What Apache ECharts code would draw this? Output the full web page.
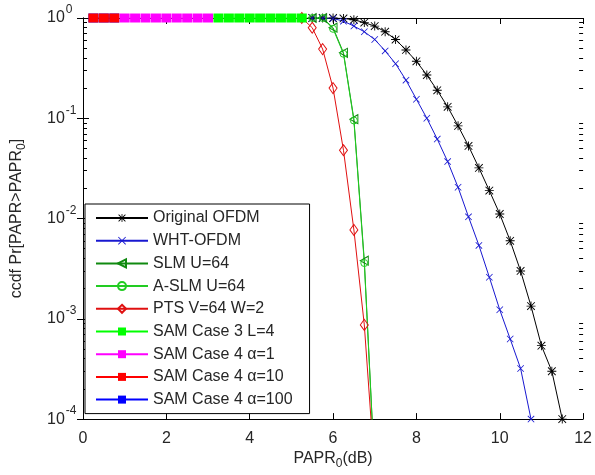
<!DOCTYPE html>
<html>
<head>
<meta charset="utf-8">
<script src="https://cdn.jsdelivr.net/npm/echarts@6/dist/echarts.min.js"></script>
<style>html,body{margin:0;padding:0;background:#fff;}#c{width:595px;height:475px;}</style>
</head>
<body>
<div id="c"></div>
<script>
// ---- data ----
const xOrig = [5.5,5.75,6.0,6.25,6.5,6.75,7.0,7.25,7.5,7.75,8.0,8.25,8.5,8.75,9.0,9.25,9.5,9.75,10.0,10.25,10.5,10.75,11.0,11.25,11.5];
const yOrig = [1,1,1,0.99,0.96,0.90,0.83,0.73,0.61,0.48,0.37,0.27,0.19,0.13,0.084,0.053,0.032,0.019,0.0111,0.0060,0.0030,0.00134,0.00054,0.00030,0.0001];

const xWht = [5.5,5.75,6.0,6.25,6.5,6.75,7.0,7.25,7.5,7.75,8.0,8.25,8.5,8.75,9.0,9.25,9.5,9.75,10.0,10.25,10.5,10.75];
const yWht = [1,1,0.99,0.93,0.83,0.73,0.61,0.47,0.35,0.24,0.155,0.10,0.062,0.037,0.0205,0.0104,0.0054,0.0026,0.00123,0.00063,0.00032,0.0001];

const xSlm = [5.5,5.75,6.0,6.25,6.5,6.75,7.0];
const ySlm = [1,1,0.80,0.45,0.098,0.0038,0.00003];

const xAslm = [5.5,5.75,6.0,6.25,6.5,6.75,7.0];
const yAslm = [1,1,0.78,0.44,0.095,0.0036,0.00003];

const xPts = [5.25,5.5,5.75,6.0,6.25,6.5,6.75,7.0];
const yPts = [1,0.80,0.49,0.20,0.048,0.0077,0.00087,0.00003];

const xSam3 = [3.25,3.5,3.75,4.0,4.25,4.5,4.75,5.0,5.25];
const ySam3 = [1,1,1,1,1,1,1,1,1];

const xSam4a1 = [1.0,1.25,1.5,1.75,2.0,2.25,2.5,2.75,3.0];
const ySam4a1 = [1,1,1,1,1,1,1,1,1];

const xSam4a10 = [0.25,0.5,0.75];
const ySam4a10 = [1,1,1];

const xSam4a100 = [0.25,0.5,0.75];
const ySam4a100 = [1,1,1];

const seriesNames = ['Original OFDM','WHT-OFDM','SLM U=64','A-SLM U=64','PTS V=64 W=2',
  'SAM Case 3 L=4','SAM Case 4 α=1','SAM Case 4 α=10','SAM Case 4 α=100'];

const xTicks = [0,2,4,6,8,10,12];
const yDecades = [0.0001,0.001,0.01,0.1,1];
const minorMantissas = [2,3,4,5,6,7,8,9];

// ---- helpers ----
const zip = (xs, ys) => xs.map((x, i) => [x, ys[i]]);
const FONT = 'Liberation Sans, Arial, sans-serif';
const TXT = '#262626';

const STAR = 'path://M9,0L11,0L11,20L9,20Z M0,9L20,9L20,11L0,11Z M2.2,0.8L19.2,17.8L17.8,19.2L0.8,2.2Z M17.8,0.8L19.2,2.2L2.2,19.2L0.8,17.8Z';
const XMARK = 'path://M1.6,0L20,18.4L18.4,20L0,1.6Z M18.4,0L20,1.6L1.6,20L0,18.4Z';
const LTRI = 'path://M0,10L17,0L17,20Z';

// minor tick values (2..9 times each decade)
const minorTickVals = [];
yDecades.slice(0, -1).forEach(d => minorMantissas.forEach(m => minorTickVals.push(+(d * m).toPrecision(3))));

function lineSeries(name, data, color, symbol, size, opts) {
  const hollow = opts && opts.hollow;
  return Object.assign({
    name: name,
    type: 'line',
    data: data,
    symbol: symbol,
    symbolSize: size,
    showSymbol: true,
    clip: true,
    lineStyle: { color: color, width: 1 },
    itemStyle: hollow
      ? { color: 'rgba(255,255,255,0)', borderColor: color, borderWidth: 1 }
      : { color: color, borderWidth: 0 },
    emphasis: { disabled: true },
    animation: false
  }, (opts && opts.extra) || {});
}

function logAxis(pos, withLabels, tickLen, customTicks) {
  const ax = {
    type: 'log', logBase: 10, min: 0.0001, max: 1, position: pos,
    axisLine: { show: !customTicks, lineStyle: { color: '#000', width: 1 } },
    axisTick: { show: true, inside: true, length: tickLen, lineStyle: { color: '#000', width: 1 } },
    axisLabel: { show: false },
    splitLine: { show: false },
    minorTick: { show: false }
  };
  if (customTicks) ax.axisTick.customValues = customTicks;
  if (withLabels) {
    ax.axisLabel = {
      show: true, align: 'left', margin: 36, color: TXT, fontFamily: FONT,
      formatter: v => '{b|10}{s|' + Math.round(Math.log10(v)) + '}',
      rich: {
        b: { fontSize: 16, fontFamily: FONT, color: TXT },
        s: { fontSize: 12, fontFamily: FONT, color: TXT, padding: [0, 0, 16, 1] }
      }
    };
    ax.name = 'ccdf Pr[PAPR>PAPR{sub|0}]';
    ax.nameLocation = 'middle';
    ax.nameGap = 55;
    ax.nameRotate = 90;
    ax.nameTextStyle = { fontSize: 16, color: TXT, fontFamily: FONT,
      rich: { sub: { fontSize: 12, fontFamily: FONT, color: TXT, padding: [10, 0, 0, 0] } } };
  }
  return ax;
}

const chart = echarts.init(document.getElementById('c'), null, { renderer: 'canvas' });

const option = {
  backgroundColor: '#fff',
  animation: false,
  textStyle: { fontFamily: FONT, color: TXT },
  grid: { left: 83, right: 10, top: 18, bottom: 52, containLabel: false },
  legend: {
    orient: 'vertical',
    left: 85,
    top: 204,
    padding: [6, 17, 6, 10],
    itemGap: 6.7,
    itemWidth: 52,
    itemHeight: 10,
    backgroundColor: '#fff',
    borderColor: '#000',
    borderWidth: 1,
    borderRadius: 0,
    data: seriesNames,
    textStyle: { fontFamily: FONT, fontSize: 16, color: TXT, lineHeight: 16 },
    selectedMode: false
  },
  xAxis: [
    {
      type: 'value', min: 0, max: 12, interval: 2, position: 'bottom',
      axisLine: { show: true, lineStyle: { color: '#000', width: 1 } },
      axisTick: { show: true, inside: true, length: 6, lineStyle: { color: '#000' } },
      axisLabel: { show: true, fontSize: 16, color: TXT, margin: 11, fontFamily: FONT,
        customValues: xTicks },
      splitLine: { show: false },
      name: 'PAPR{sub|0}(dB)',
      nameLocation: 'middle',
      nameGap: 28,
      nameTextStyle: { fontSize: 16, color: TXT, fontFamily: FONT,
        rich: { sub: { fontSize: 12, fontFamily: FONT, color: TXT, padding: [10, 0, 0, 0] } } }
    },
    {
      type: 'value', min: 0, max: 12, interval: 2, position: 'top',
      axisLine: { show: true, lineStyle: { color: '#000', width: 1 } },
      axisTick: { show: true, inside: true, length: 6, lineStyle: { color: '#000' } },
      axisLabel: { show: false },
      splitLine: { show: false }
    }
  ],
  yAxis: [
    logAxis('left', true, 6, null),
    logAxis('right', false, 6, null),
    logAxis('left', false, 4, minorTickVals),
    logAxis('right', false, 4, minorTickVals)
  ],
  series: [
    lineSeries(seriesNames[0], zip(xOrig, yOrig), '#000000', STAR, 9),
    lineSeries(seriesNames[1], zip(xWht, yWht), '#1818d0', XMARK, 7),
    lineSeries(seriesNames[2], zip(xSlm, ySlm), '#108a10', LTRI, [8, 9], { hollow: true }),
    lineSeries(seriesNames[3], zip(xAslm, yAslm), '#22cc22', 'circle', 7, { hollow: true }),
    lineSeries(seriesNames[4], zip(xPts, yPts), '#e01010', 'diamond', [8, 11], { hollow: true }),
    lineSeries(seriesNames[5], zip(xSam3, ySam3), '#00ff00', 'rect', [10, 9]),
    lineSeries(seriesNames[6], zip(xSam4a1, ySam4a1), '#ff00ff', 'rect', [10, 9]),
    lineSeries(seriesNames[7], zip(xSam4a10, ySam4a10), '#ff0000', 'rect', [10, 9]),
    lineSeries(seriesNames[8], zip(xSam4a100, ySam4a100), '#0000ff', 'rect', [10, 9], { extra: { z: 1 } })
  ]
};

chart.setOption(option);
</script>
</body>
</html>
